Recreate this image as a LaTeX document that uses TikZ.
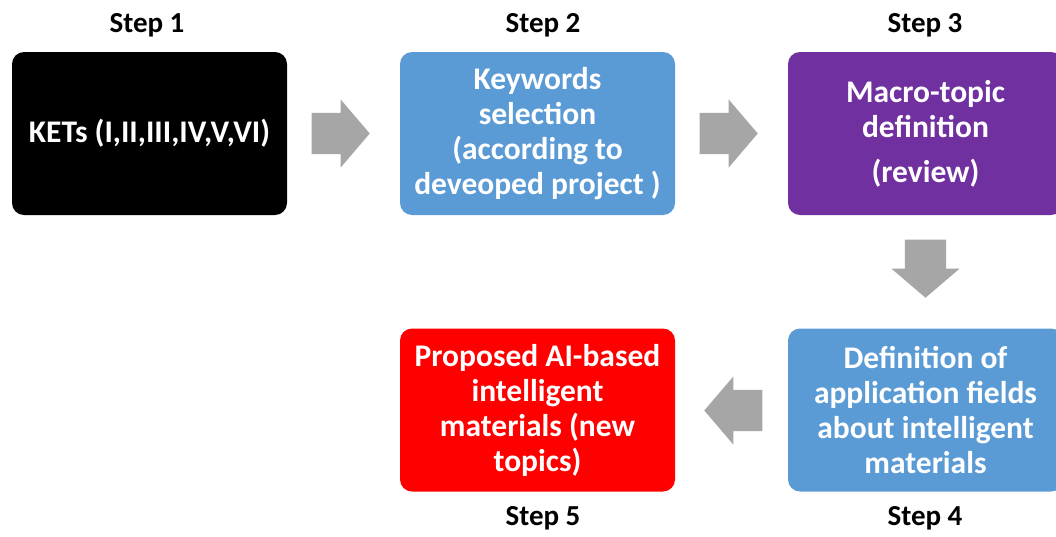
\documentclass[tikz,border=0pt]{standalone}
\usepackage{fontspec}
\setmainfont{Carlito}
\usetikzlibrary{shapes.arrows,positioning}
\definecolor{stepBlue}{HTML}{5B9BD5}
\definecolor{stepPurple}{HTML}{7030A0}
\definecolor{stepRed}{HTML}{FF0000}
\definecolor{arrowGray}{HTML}{A6A6A6}

\begin{document}
\begin{tikzpicture}[x=1pt,y=-1pt,
	StepBox/.style={rectangle,rounded corners=12pt,draw=none,text=white,align=center,
		minimum width=275pt,minimum height=163pt,inner sep=0pt,
		font=\fontsize{31.5}{35}\selectfont\bfseries},
	StepLabel/.style={font=\fontsize{29}{30}\selectfont\bfseries,inner sep=0pt},
	BlockArrow/.style={single arrow,fill=arrowGray,draw=none,inner xsep=0pt,inner ysep=20.5pt,
		minimum height=58pt,single arrow head extend=13.5pt,
		single arrow tip angle=99},
]
	\useasboundingbox (0,0) rectangle (1056,536);
	%\draw[help lines,step=50,gray!20] (0,0) grid (1056,536);
	\node[StepBox,fill=black] (kets) at (149.5,133.5) {KETs (I,II,III,IV,V,VI)};
	\node[StepBox,fill=stepBlue] (keywords) at (537.5,133.5) {Keywords\\selection\\(according to\\deveoped project )};
	\node[StepBox,fill=stepPurple] (macro) at (925.5,133.5) {Macro-topic\\definition\\[10pt](review)};
	\node[StepBox,fill=stepBlue] (fields) at (925.5,410) {Definition of\\application fields\\about intelligent\\materials};
	\node[StepBox,fill=stepRed] (proposed) at (537.5,410) {Proposed AI-based\\intelligent\\materials (new\\topics)};

	\node[StepLabel] (s1) at (147,25) {Step 1};
	\node[StepLabel] (s2) at (543,25) {Step 2};
	\node[StepLabel] (s3) at (925,25) {Step 3};
	\node[StepLabel] (s4) at (925,518) {Step 4};
	\node[StepLabel] (s5) at (543,518) {Step 5};

	\node[BlockArrow,anchor=tip] (a12) at (370,133.5) {};
	\node[BlockArrow,anchor=tip] (a23) at (758,133.5) {};
	\node[BlockArrow,anchor=tip,rotate=-90] (a34) at (925.5,298) {};
	\node[BlockArrow,anchor=tip,shape border rotate=180] (a45) at (704,410.5) {};
\end{tikzpicture}
\end{document}
